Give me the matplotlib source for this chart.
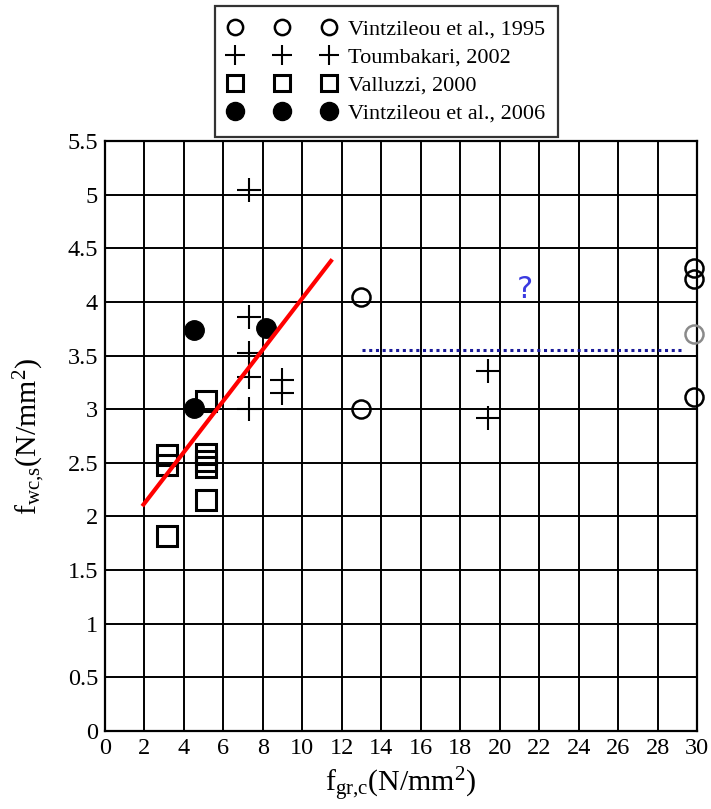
import numpy as np
import matplotlib.pyplot as plt
from matplotlib.lines import Line2D

plt.rcParams["font.family"] = ["Liberation Serif", "DejaVu Serif"]
plt.rcParams["mathtext.fontset"] = "custom"
plt.rcParams["mathtext.rm"] = "Liberation Serif"
plt.rcParams["mathtext.it"] = "Liberation Serif"

# ---------------------------------------------------------------------
# DATA  (f_gr,c , f_wc,s) in N/mm2
# ---------------------------------------------------------------------
vint1995_x = [12.95, 12.95, 29.85, 29.85, 29.85]
vint1995_y = [4.05, 3.00, 4.32, 4.21, 3.11]
vint1995_grey_x = [29.85]
vint1995_grey_y = [3.70]

toumb_x = [7.3, 7.3, 7.3, 7.3, 7.3, 8.95, 8.95, 19.4, 19.4]
toumb_y = [5.04, 3.86, 3.52, 3.30, 3.00, 3.27, 3.15, 3.36, 2.92]

valluzzi_x = [3.15, 3.15, 5.1, 5.1, 5.1, 5.1, 5.1, 3.15]
valluzzi_y = [2.57, 2.48, 3.08, 2.58, 2.52, 2.46, 2.15, 1.82]

vint2006_x = [4.5, 8.15, 4.5]
vint2006_y = [3.74, 3.76, 3.01]

# linear trend and the mean level for the stronger grouts
fit_x = [1.95, 11.45]
fit_slope, fit_icpt = 0.239, 1.645
level_x = [13.0, 29.2]
level_y = 3.55

x_ticks = np.arange(0, 31, 2)
y_ticks = np.arange(0, 5.51, 0.5)
y_ticklabels = ["0", "0.5", "1", "1.5", "2", "2.5", "3", "3.5", "4", "4.5", "5", "5.5"]

# ---------------------------------------------------------------------
# PLOT
# ---------------------------------------------------------------------
fig = plt.figure(figsize=(7.11, 8.09), dpi=100)
ax = fig.add_axes([0.1477, 0.0964, 0.8326, 0.7293])

ax.set_xlim(0, 30)
ax.set_ylim(0, 5.5)
ax.set_xticks(x_ticks)
ax.set_yticks(y_ticks)
ax.set_yticklabels(y_ticklabels)
ax.tick_params(length=0, labelsize=17.5, pad=5)
ax.grid(True, color="black", linewidth=1.4)
for s in ax.spines.values():
    s.set_linewidth(1.6)

ax.plot(vint1995_x, vint1995_y, "o", ms=13, mfc="none", mec="black",
        mew=1.8, clip_on=False, zorder=4)
ax.plot(vint1995_grey_x, vint1995_grey_y, "o", ms=13, mfc="none",
        mec="#8a8a8a", mew=1.8, clip_on=False, zorder=4)
ax.plot(toumb_x, toumb_y, "+", ms=17, mec="black", mew=1.5, zorder=4)
ax.plot(valluzzi_x, valluzzi_y, "s", ms=14, mfc="none", mec="black",
        mew=2.2, zorder=4)
ax.plot(vint2006_x, vint2006_y, "o", ms=14, color="black", zorder=5)

fx = np.array(fit_x)
ax.plot(fx, fit_slope * fx + fit_icpt, color="red", lw=3, zorder=6)
ax.plot(level_x, [level_y, level_y], color="#1a1a9a", lw=2.2,
        linestyle=(0, (1, 1.2)), zorder=3)
ax.text(21.3, 4.12, "?", color="#3a3ae0", fontsize=22,
        family="DejaVu Sans", ha="center", va="center")

ax.set_xlabel(r"$\mathrm{f_{gr{,}c}(N/mm^2)}$", fontsize=21.5, labelpad=5)
ax.set_ylabel(r"$\mathrm{f_{wc{,}s}(N/mm^2)}$", fontsize=21.5, labelpad=14)

handles = [
    Line2D([], [], ls="none", marker="o", ms=11, mfc="none", mec="black", mew=1.8),
    Line2D([], [], ls="none", marker="+", ms=15, mec="black", mew=1.5),
    Line2D([], [], ls="none", marker="s", ms=11, mfc="none", mec="black", mew=2.2),
    Line2D([], [], ls="none", marker="o", ms=13, color="black"),
]
labels = ["Vintzileou et al., 1995", "Toumbakari, 2002",
          "Valluzzi, 2000", "Vintzileou et al., 2006"]
leg = fig.legend(handles, labels, loc="upper center", bbox_to_anchor=(0.544, 0.993),
                 numpoints=3, handlelength=4.83, handletextpad=0.55, fontsize=16,
                 frameon=True, fancybox=False, edgecolor="black",
                 borderpad=0.6, labelspacing=0.34, borderaxespad=0)
leg.get_frame().set_linewidth(1.6)

fig.savefig("out.png", dpi=100)
